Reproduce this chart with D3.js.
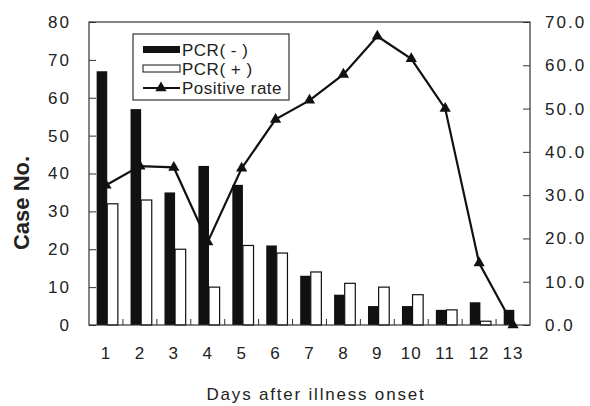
<!DOCTYPE html>
<html>
<head>
<meta charset="utf-8">
<script src="https://cdn.jsdelivr.net/npm/d3@7"></script>
<style>
  body { margin: 0; background: #fff; }
  text { font-family: "Liberation Sans", Arial, sans-serif; fill: #222; }
</style>
</head>
<body>
<div id="chart"></div>
<script>
// data
const days = ["1", "2", "3", "4", "5", "6", "7", "8", "9", "10", "11", "12", "13"];
const pcrNeg = [67, 57, 35, 42, 37, 21, 13, 8, 5, 5, 4, 6, 4];
const pcrPos = [32, 33, 20, 10, 21, 19, 14, 11, 10, 8, 4, 1, 0];
const positiveRate = [32.3, 36.7, 36.4, 19.2, 36.2, 47.5, 51.9, 57.9, 66.7, 61.5, 50.0, 14.3, 0.0];
const leftTicks = [0, 10, 20, 30, 40, 50, 60, 70, 80];
const rightTicks = [0, 10, 20, 30, 40, 50, 60, 70];

const width = 590, height = 406;
const margin = {top: 22, right: 60, bottom: 81, left: 89};

const svg = d3.select("#chart").append("svg")
    .attr("width", width)
    .attr("height", height);

const x = d3.scaleBand()
    .domain(days)
    .range([margin.left, width - margin.right])
    .padding(0);

const sub = d3.scaleBand()
    .domain(["neg", "pos"])
    .range([x.bandwidth() * 0.225, x.bandwidth() * 0.85]);

const yLeft = d3.scaleLinear()
    .domain([0, 80])
    .range([height - margin.bottom, margin.top]);

const yRight = d3.scaleLinear()
    .domain([0, 70])
    .range([height - margin.bottom, margin.top]);

// bars
svg.append("g")
  .selectAll("rect")
  .data(days)
  .join("rect")
    .attr("x", d => x(d) + sub("neg"))
    .attr("y", (d, i) => yLeft(pcrNeg[i]))
    .attr("width", sub.bandwidth())
    .attr("height", (d, i) => yLeft(0) - yLeft(pcrNeg[i]))
    .attr("fill", "#111");

svg.append("g")
  .selectAll("rect")
  .data(days)
  .join("rect")
    .attr("x", d => x(d) + sub("pos"))
    .attr("y", (d, i) => yLeft(pcrPos[i]))
    .attr("width", sub.bandwidth())
    .attr("height", (d, i) => yLeft(0) - yLeft(pcrPos[i]))
    .attr("fill", "#fff")
    .attr("stroke", "#111")
    .attr("stroke-width", 1.2);

// frame
svg.append("rect")
    .attr("x", margin.left)
    .attr("y", margin.top)
    .attr("width", width - margin.left - margin.right)
    .attr("height", height - margin.top - margin.bottom)
    .attr("fill", "none")
    .attr("stroke", "#333")
    .attr("stroke-width", 1.2);

// left axis, inward ticks
const gl = svg.append("g")
    .attr("transform", `translate(${margin.left},0)`)
    .call(d3.axisLeft(yLeft).tickValues(leftTicks).tickSize(-7).tickPadding(18));
gl.select(".domain").remove();
gl.selectAll(".tick line").attr("stroke", "#333");
gl.selectAll("text")
    .attr("font-size", 17)
    .attr("letter-spacing", 2)
    .attr("fill", "#222");

// right axis
const gr = svg.append("g")
    .attr("transform", `translate(${width - margin.right},0)`)
    .call(d3.axisRight(yRight).tickValues(rightTicks).tickFormat(d3.format(".1f")).tickSize(-7).tickPadding(15));
gr.select(".domain").remove();
gr.selectAll(".tick line").attr("stroke", "#333");
gr.selectAll("text")
    .attr("font-size", 17)
    .attr("letter-spacing", 2)
    .attr("fill", "#222");

// bottom axis: labels at band centers, ticks between bands
const gb = svg.append("g")
    .attr("transform", `translate(0,${height - margin.bottom})`)
    .call(d3.axisBottom(x).tickSize(0).tickPadding(22));
gb.select(".domain").remove();
gb.selectAll("text")
    .attr("font-size", 17)
    .attr("letter-spacing", 1)
    .attr("fill", "#222");

svg.append("g")
  .selectAll("line")
  .data(days.slice(1))
  .join("line")
    .attr("x1", d => x(d))
    .attr("x2", d => x(d))
    .attr("y1", yLeft(0))
    .attr("y2", yLeft(0) - 6)
    .attr("stroke", "#333");

// positive rate line
const line = d3.line()
    .x((d, i) => x(days[i]) + x.bandwidth() / 2)
    .y(d => yRight(d));

svg.append("path")
    .datum(positiveRate)
    .attr("d", line)
    .attr("fill", "none")
    .attr("stroke", "#111")
    .attr("stroke-width", 2.2);

const tri = d3.symbol().type(d3.symbolTriangle).size(55);
svg.append("g")
  .selectAll("path")
  .data(positiveRate)
  .join("path")
    .attr("d", tri)
    .attr("transform", (d, i) => `translate(${x(days[i]) + x.bandwidth() / 2},${yRight(d)})`)
    .attr("fill", "#111");

// axis titles
svg.append("text")
    .attr("x", 316)
    .attr("y", 400)
    .attr("text-anchor", "middle")
    .attr("font-size", 17)
    .attr("letter-spacing", 1.8)
    .text("Days after illness onset");

svg.append("text")
    .attr("transform", "rotate(-90)")
    .attr("x", -203)
    .attr("y", 29)
    .attr("text-anchor", "middle")
    .attr("font-size", 22)
    .attr("font-weight", "bold")
    .attr("fill", "#111")
    .text("Case No.");

// legend
const legend = svg.append("g");
legend.append("rect")
    .attr("x", 133).attr("y", 34)
    .attr("width", 156).attr("height", 66)
    .attr("fill", "#fff")
    .attr("stroke", "#333")
    .attr("stroke-width", 1.2);

const rows = ["PCR( - )", "PCR( + )", "Positive rate"];
const rowY = [49.5, 68.5, 88];

legend.append("rect")
    .attr("x", 143).attr("y", rowY[0] - 3.5)
    .attr("width", 37).attr("height", 7)
    .attr("fill", "#111");
legend.append("rect")
    .attr("x", 143).attr("y", rowY[1] - 3.5)
    .attr("width", 37).attr("height", 7)
    .attr("fill", "#fff")
    .attr("stroke", "#111");
legend.append("line")
    .attr("x1", 143).attr("x2", 180)
    .attr("y1", rowY[2]).attr("y2", rowY[2])
    .attr("stroke", "#111")
    .attr("stroke-width", 2);
legend.append("path")
    .attr("d", tri)
    .attr("transform", `translate(161,${rowY[2]})`)
    .attr("fill", "#111");

legend.selectAll("text.lbl")
  .data(rows)
  .join("text")
    .attr("class", "lbl")
    .attr("x", 182)
    .attr("y", (d, i) => rowY[i] + 6)
    .attr("font-size", 17)
    .attr("letter-spacing", 0.5)
    .text(d => d);
</script>
</body>
</html>
